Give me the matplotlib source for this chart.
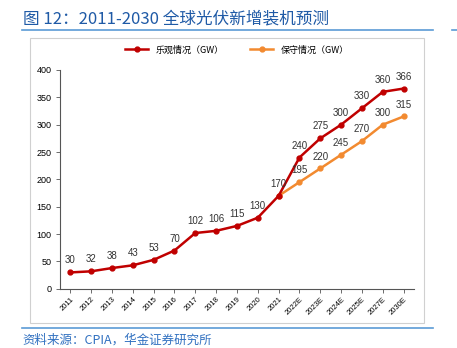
import matplotlib
matplotlib.use('Agg')
import matplotlib.pyplot as plt
from matplotlib.patches import Rectangle
from matplotlib.lines import Line2D

plt.rcParams['font.family'] = ['Noto Sans CJK SC', 'DejaVu Sans']

years = ['2011', '2012', '2013', '2014', '2015', '2016', '2017', '2018', '2019',
         '2020', '2021', '2022E', '2023E', '2024E', '2025E', '2027E', '2030E']
optimistic = [30, 32, 38, 43, 53, 70, 102, 106, 115, 130, 170, 240, 275, 300, 330, 360, 366]
conservative_years = ['2021', '2022E', '2023E', '2024E', '2025E', '2027E', '2030E']
conservative = [170, 195, 220, 245, 270, 300, 315]

red = '#C00000'
orange = '#F28A30'
blue = '#1F5AA6'
num_font = 'Liberation Sans'

fig = plt.figure(figsize=(4.57, 3.48), dpi=100)

# title and separator lines
fig.text(0.05, 0.945, '图 12：2011-2030 全球光伏新增装机预测', color=blue,
         fontsize=12, fontweight='medium', va='center')
fig.add_artist(Line2D([0.048, 0.948], [0.914, 0.914], color='#5B9BD5', lw=1.2))
fig.add_artist(Line2D([0.99, 1.0], [0.914, 0.914], color='#5B9BD5', lw=1.2))
fig.add_artist(Line2D([0.048, 0.948], [0.058, 0.058], color='#5B9BD5', lw=1.2))
fig.text(0.05, 0.022, '资料来源：CPIA，华金证券研究所', color='#3070C0', fontsize=9,
         style='italic', fontweight='light', va='center')

# chart frame
fig.add_artist(Rectangle((0.066, 0.072), 0.862, 0.82, transform=fig.transFigure,
                         fill=False, edgecolor='#D0D0D0', lw=0.8))

ax = fig.add_axes([0.131, 0.170, 0.775, 0.629])
x = list(range(len(years)))
cx = [years.index(y) for y in conservative_years]

ax.plot(x, optimistic, color=red, lw=1.8, marker='o', ms=3.5, label='乐观情况（GW）', zorder=3)
ax.plot(cx, conservative, color=orange, lw=1.8, marker='o', ms=3.5, label='保守情况（GW）', zorder=2)

for xi, v in zip(x, optimistic):
    ax.annotate(str(v), (xi, v), xytext=(0, 5), textcoords='offset points',
                ha='center', va='bottom', fontsize=7, color='#333333', family=num_font)
for xi, v in zip(cx[1:], conservative[1:]):
    ax.annotate(str(v), (xi, v), xytext=(0, 5), textcoords='offset points',
                ha='center', va='bottom', fontsize=7, color='#333333', family=num_font)

ax.set_xlim(-0.5, len(years) - 0.5)
ax.set_ylim(0, 400)
ax.set_yticks(range(0, 401, 50))
ax.set_xticks(x)
ax.set_xticklabels(years, rotation=45, ha='right', rotation_mode='anchor', fontsize=5.5,
                   family=num_font)
for lbl in ax.get_yticklabels():
    lbl.set_family(num_font)
ax.tick_params(axis='y', labelsize=6.5, length=3, width=0.6, color='#555555', pad=3)
ax.tick_params(axis='x', length=3, width=0.6, color='#555555', pad=2)
for side in ['top', 'right']:
    ax.spines[side].set_visible(False)
for side in ['left', 'bottom']:
    ax.spines[side].set_color('#555555')
    ax.spines[side].set_linewidth(0.8)

ax.legend(loc='upper center', bbox_to_anchor=(0.5, 1.15), ncol=2, frameon=False,
          fontsize=6.5, handlelength=2.5, columnspacing=3)

fig.savefig('out.png', dpi=100)
